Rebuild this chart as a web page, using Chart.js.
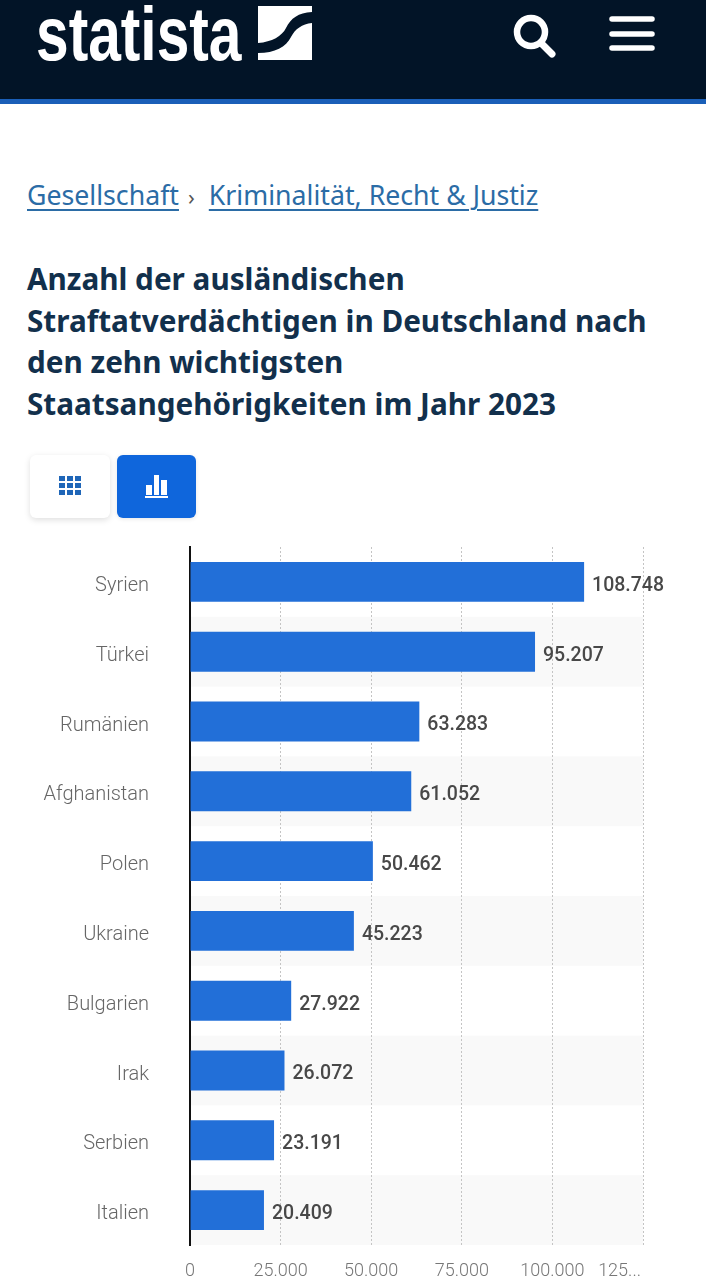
<!DOCTYPE html>
<html lang="de">
<head>
<meta charset="utf-8">
<script src="https://cdn.jsdelivr.net/npm/chart.js@4"></script>
<style>
html,body{margin:0;padding:0;background:#fff;width:706px;height:1280px;overflow:hidden}
body{position:relative;font-family:"Noto Sans",sans-serif}
.abs{position:absolute}
#hdr{left:0;top:0;width:706px;height:99px;background:#021427;border-bottom:5px solid #1a5fb8}
#logo{left:36px;top:-4px;font:bold 76px/76px "Liberation Sans",sans-serif;color:#fff;transform-origin:0 0;transform:scaleX(.772);white-space:nowrap}
#crumb{left:27px;top:176px;font-size:26.7px;line-height:38px;color:#2b6ca6;white-space:nowrap}
#crumb a{color:inherit;text-decoration:underline;text-decoration-thickness:2px;text-underline-offset:4px}
#crumb span{color:#555;font-size:22px;margin:0 14px 0 9px}
#title{left:27px;top:258px;width:670px;font-size:29.7px;font-weight:700;line-height:41.5px;color:#12304c;white-space:nowrap}
.btn{top:455px;height:63px;border-radius:6px}
#b1{left:30px;width:80px;background:#fff;box-shadow:0 2px 6px rgba(0,0,0,.13)}
#b2{left:117px;width:79px;background:#0f66dc;box-shadow:0 1px 4px rgba(0,0,0,.1)}
#wrap{left:0;top:494px;width:706px;height:804px}
</style>
</head>
<body>
<div class="abs" id="hdr"></div>
<div class="abs" id="logo">statista</div>
<svg class="abs" style="left:258px;top:6px" width="54" height="54" viewBox="0 0 54 54">
<path fill="#fff" d="M0 0H54V6C40 7 33 12 28 22C24 30 14 36 0 37Z"/>
<path fill="#fff" d="M54 17V54H0V47C17 47 28 41 33 31C37 23 44 18 54 17Z"/>
</svg>
<svg class="abs" style="left:510px;top:10px" width="50" height="50" viewBox="0 0 50 50">
<circle cx="21" cy="22" r="14" fill="none" stroke="#fff" stroke-width="6.5"/>
<line x1="31" y1="33" x2="42" y2="44" stroke="#fff" stroke-width="7" stroke-linecap="round"/>
</svg>
<svg class="abs" style="left:608px;top:14px" width="48" height="40" viewBox="0 0 48 40">
<g stroke="#fff" stroke-width="5.5" stroke-linecap="round"><line x1="4" y1="5" x2="44" y2="5"/><line x1="4" y1="20" x2="44" y2="20"/><line x1="4" y1="34" x2="44" y2="34"/></g>
</svg>
<div class="abs" id="crumb"><a>Gesellschaft</a><span>›</span><a>Kriminalität, Recht &amp; Justiz</a></div>
<div class="abs" id="title">Anzahl der ausländischen<br>Straftatverdächtigen in Deutschland nach<br>den zehn wichtigsten<br>Staatsangehörigkeiten im Jahr 2023</div>
<div class="abs btn" id="b1"></div>
<div class="abs btn" id="b2"></div>
<svg class="abs" style="left:58px;top:475px" width="24" height="21" viewBox="0 0 24 21"><g fill="#1f66b8">
<rect x="1" y="1" width="6" height="5"/><rect x="9" y="1" width="6" height="5"/><rect x="17" y="1" width="6" height="5"/>
<rect x="1" y="8" width="6" height="5"/><rect x="9" y="8" width="6" height="5"/><rect x="17" y="8" width="6" height="5"/>
<rect x="1" y="15" width="6" height="5"/><rect x="9" y="15" width="6" height="5"/><rect x="17" y="15" width="6" height="5"/></g></svg>
<svg class="abs" style="left:145px;top:474px" width="24" height="25" viewBox="0 0 24 25"><g fill="#fff">
<rect x="1" y="11" width="6" height="10"/><rect x="9" y="1" width="5" height="20"/><rect x="16" y="6" width="6" height="15"/><rect x="0" y="22" width="23" height="2"/></g></svg>
<div class="abs" id="wrap"><canvas id="c" width="706" height="804"></canvas></div>
<script>
const categories = ["Syrien","Türkei","Rumänien","Afghanistan","Polen","Ukraine","Bulgarien","Irak","Serbien","Italien"];
const values = [108748,95207,63283,61052,50462,45223,27922,26072,23191,20409];
const tickLabels = ["0","25.000","50.000","75.000","100.000","125..."];
const fmt = v => String(v).replace(/\B(?=(\d{3})+$)/g,".");

const bands = {id:"bands",beforeDraw(ch){
  const y=ch.scales.y,a=ch.chartArea,g=ch.ctx;
  const h=y.getPixelForValue(1)-y.getPixelForValue(0);
  g.save();g.fillStyle="#f9f9f9";
  categories.forEach((c,i)=>{ if(i%2===1) g.fillRect(a.left,y.getPixelForValue(i)-h/2,a.right-a.left,h); });
  g.restore();
}};
const labels = {id:"labels",afterDraw(ch){
  const g=ch.ctx,meta=ch.getDatasetMeta(0),x=ch.scales.x;
  g.save();
  g.font='500 19.5px Roboto';g.fillStyle="#484848";g.textBaseline="middle";g.textAlign="left";
  meta.data.forEach((b,i)=>g.fillText(fmt(values[i]),b.x+8,b.y+4));
  g.font='300 18px Roboto';g.fillStyle="#777";g.textAlign="right";g.textBaseline="middle";
  g.fillText(tickLabels[5],x.getPixelForValue(125000)-2,ch.chartArea.bottom+26);
  g.restore();
}};
new Chart(document.getElementById("c"),{
  type:"bar",
  data:{labels:categories,datasets:[{data:values,backgroundColor:"#226fd8",categoryPercentage:1,barPercentage:0.571,borderWidth:0}]},
  plugins:[bands,labels],
  options:{
    indexAxis:"y",responsive:false,animation:false,
    layout:{padding:{left:0,right:63,top:0,bottom:0}},
    plugins:{legend:{display:false},tooltip:{enabled:false}},
    scales:{
      x:{min:0,max:125000,position:"bottom",
        afterFit(s){s.height=33;},
        afterBuildTicks(s){s.ticks=[0,25000,50000,75000,100000,125000].map(v=>({value:v}));},
        grid:{color:c=>c.index===0?"transparent":"#c4c4c4",lineWidth:1,drawTicks:false},
        border:{display:false,dash:[2,2]},
        ticks:{padding:16,maxRotation:0,autoSkip:false,color:"#777",font:{family:"Roboto",size:18,weight:"300"},
          callback:(v,i)=>i<5?tickLabels[i]:""}
      },
      y:{position:"left",
        afterFit(s){s.width=190;},
        grid:{display:false,drawTicks:false},
        border:{display:true,color:"#111",width:2},
        ticks:{padding:41,labelOffset:4,color:"#666",font:{family:"Roboto",size:20,weight:"300"}}
      }
    }
  }
});
</script>
</body>
</html>
